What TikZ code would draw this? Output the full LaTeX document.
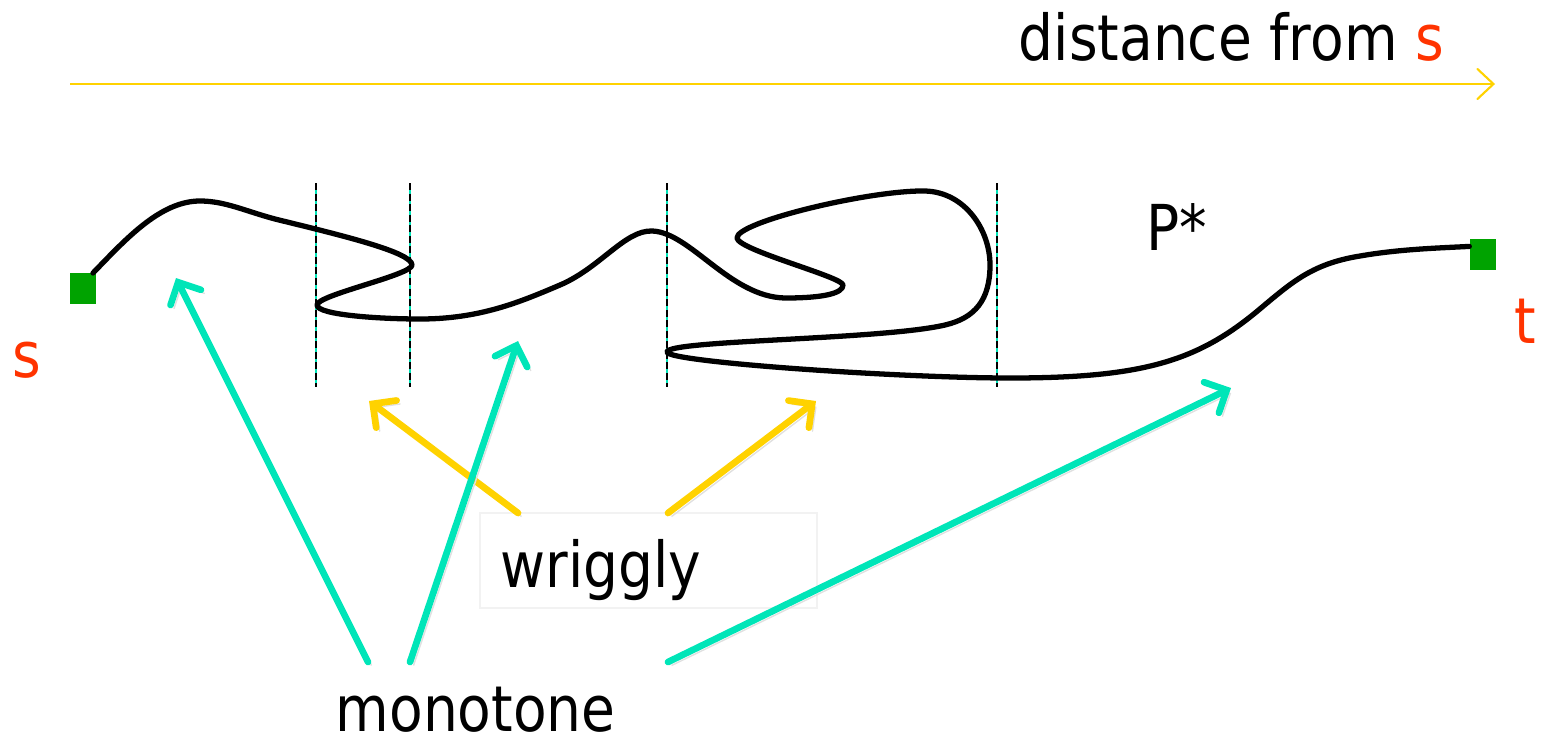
\documentclass[tikz,border=0pt]{standalone}
\usepackage{fontspec}
\setmainfont{DejaVu Sans}[FakeStretch=0.87]
\usepackage{tikz}
\usetikzlibrary{arrows.meta,positioning,calc}
\usepackage{xcolor}
\definecolor{ink}{HTML}{000000}
\definecolor{endred}{HTML}{FF3300}
\definecolor{endgreen}{HTML}{00A300}
\definecolor{gold}{HTML}{FFD200}
\definecolor{mint}{HTML}{00E5B8}
\definecolor{faint}{HTML}{F2F2F2}
\tikzset{
  every node/.style={font=\fontsize{18}{22}\selectfont,text=ink,inner sep=0pt},
  label/.style={anchor=base west},
  endlabel/.style={label,text=endred},
  endbox/.style={fill=endgreen,minimum width=2.6mm,minimum height=3.1mm},
  pathline/.style={line width=1.5pt,draw=ink,line join=round,line cap=round},
  cut/.style={draw=ink,line width=0.6pt,dash pattern=on 2pt off 1pt},
  cutglow/.style={draw=mint,line width=0.3pt},
  axis/.style={-{Straight Barb[length=1.6mm,width=3mm,line cap=round]},line width=0.6pt,draw=gold},
  shade/.style={preaction={draw=black!12,transform canvas={shift={(1pt,-1pt)}}}},
  pointer/.style={-{Straight Barb[length=1.7mm,width=3.4mm,line cap=round]},line width=1.9pt,line cap=round,shade},
  mono/.style={pointer,draw=mint},
  wrig/.style={pointer,draw=gold},
  tagbox/.style={draw=faint,fill=white,line width=0.4pt,minimum width=33.7mm,minimum height=9.5mm},
}

\begin{document}
\begin{tikzpicture}[x=0.01cm,y=-0.01cm]
  \useasboundingbox (0,0) rectangle (1543,742);

  % distance axis
  \coordinate (ax0) at (70,84);
  \coordinate (ax1) at (1495,84);
  \draw[axis] (ax0) -- (ax1);
  \node[label] (dist) at (1018,60) {distance from \textcolor{endred}{s}};

  % end points
  \node[endbox] (s) at (83,288.5) {};
  \node[endbox] (t) at (1483,254.5) {};
  \node[endlabel] (slab) at (12,377) {s};
  \node[endlabel] (tlab) at (1514,343) {t};
  \node[label] (pstar) at (1146,250) {P*};

  % cut lines
  \foreach \x in {316,410,667,997} {
    \draw[cutglow] (\x,183) -- (\x,387);
    \draw[cut] (\x,183) -- (\x,387);
  }

  % the path P*
  \draw[pathline] (93,273)
    .. controls (125,240) and (160,201) .. (200,201)
    .. controls (225,201) and (245,211) .. (275,219)
    .. controls (340,235) and (412,252) .. (412,265)
    .. controls (412,275) and (317,295) .. (317,305)
    .. controls (317,315) and (380,319) .. (420,319)
    .. controls (480,319) and (520,302) .. (560,285)
    .. controls (600,268) and (625,230) .. (652,231)
    .. controls (690,232) and (730,297) .. (785,298)
    .. controls (825,298) and (843,293) .. (843,285)
    .. controls (843,277) and (738,250) .. (737,238)
    .. controls (736,222) and (870,190) .. (925,191)
    .. controls (965,192) and (990,230) .. (990,265)
    .. controls (990,300) and (975,318) .. (945,325)
    .. controls (880,340) and (667,340) .. (667,352)
    .. controls (667,362) and (900,378) .. (1010,378)
    .. controls (1140,378) and (1195,362) .. (1255,313)
    .. controls (1290,284) and (1310,264) .. (1360,256)
    .. controls (1400,249) and (1440,248) .. ($(t.west)!0.5!(t.north west)$);

  % wriggly
  \node[tagbox] (wbox) at (648.5,560.5) {};
  \node[label] (wriggly) at (500,587) {wriggly};
  \coordinate (w1) at (369,401);
  \coordinate (w2) at (816,401);
  \draw[wrig] (518,513) -- (w1);
  \draw[wrig] (668,513) -- (w2);

  % monotone
  \node[label] (monotone) at (335,731) {monotone};
  \coordinate (m1) at (176,278);
  \coordinate (m2) at (518,341);
  \coordinate (m3) at (1231,388);
  \draw[mono] (368,662) -- (m1);
  \draw[mono] (410,662) -- (m2);
  \draw[mono] (668,662) -- (m3);
\end{tikzpicture}
\end{document}
